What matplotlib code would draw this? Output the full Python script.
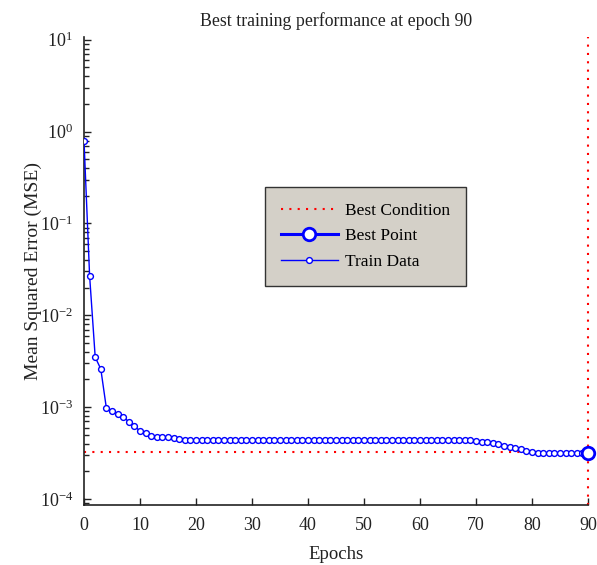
import matplotlib
matplotlib.use("Agg")
import matplotlib.pyplot as plt
import matplotlib.ticker as mticker
import numpy as np

epochs = list(range(0, 91))
train_mse = [
    0.80, 0.027, 0.0035, 0.0026, 0.00097, 0.00091, 0.00084, 0.00079, 0.00069, 0.00062,
    0.00055, 0.00052, 0.00049, 0.00047, 0.00047, 0.00047, 0.000457, 0.00045, 0.000438, 0.000438,
    0.000438, 0.000438, 0.000438, 0.000438, 0.000438, 0.000438, 0.000438, 0.000438, 0.000438, 0.000438,
    0.000438, 0.000438, 0.000438, 0.000438, 0.000438, 0.000438, 0.000438, 0.000438, 0.000438, 0.000438,
    0.000438, 0.000438, 0.000438, 0.000438, 0.000438, 0.000438, 0.000438, 0.000438, 0.000438, 0.000438,
    0.000438, 0.000438, 0.000438, 0.000438, 0.000438, 0.000438, 0.000438, 0.000438, 0.000438, 0.000438,
    0.000438, 0.000438, 0.000438, 0.000438, 0.000438, 0.000438, 0.000438, 0.000438, 0.000438, 0.000434,
    0.000428, 0.000422, 0.000415, 0.000405, 0.000395, 0.000382, 0.000370, 0.000358, 0.000346, 0.000335,
    0.000326, 0.000320, 0.000317, 0.000317, 0.000317, 0.000317, 0.000317, 0.000317, 0.000317, 0.000317,
    0.000316,
]
best_epoch = 90
best_value = 0.000316
best_condition = 0.000322
title_text = "Best training performance at epoch 90"
xlabel_text = "Epochs"
ylabel_text = "Mean Squared Error (MSE)"
x_ticks = [0, 10, 20, 30, 40, 50, 60, 70, 80, 90]
y_ticks = [1e-4, 1e-3, 1e-2, 1e-1, 1e0, 1e1]

plt.rcParams["font.family"] = ["Liberation Serif"]
plt.rcParams["mathtext.fontset"] = "custom"
plt.rcParams["mathtext.rm"] = "Liberation Serif"
plt.rcParams["mathtext.it"] = "Liberation Serif"

fig = plt.figure(figsize=(5.97, 5.65), dpi=100)
W, H = 597, 565
left, right, top, bottom = 84, 588, 37, 505
ax = fig.add_axes([left / W, 1 - bottom / H, (right - left) / W, (bottom - top) / H])

ax.axhline(best_condition, color="red", linestyle=(0, (1, 3)), linewidth=1.5,
           label="Best Condition", zorder=2)
ax.axvline(best_epoch, color="red", linestyle=(0, (1, 3)), linewidth=1.5, zorder=2,
           clip_on=False)
ax.plot([best_epoch], [best_value], color="blue", marker="o", markersize=9,
        markerfacecolor="white", markeredgewidth=2, linewidth=2.2,
        label="Best Point", zorder=4, clip_on=False)
ax.plot(epochs, train_mse, color="blue", marker="o", markersize=4.2,
        markerfacecolor="white", markeredgewidth=1, linewidth=1,
        label="Train Data", zorder=3)

ax.set_yscale("log")
ax.set_xlim(0, 90)
ax.set_ylim(8.6e-5, 10 ** 1.03)
ax.set_xticks(x_ticks)
ax.set_yticks(y_ticks)
ax.yaxis.set_major_formatter(mticker.FuncFormatter(lambda v, p: r"$10^{%d}$" % round(np.log10(v))))
ax.yaxis.set_minor_locator(mticker.LogLocator(base=10, subs=np.arange(2, 10)))
ax.yaxis.set_minor_formatter(mticker.NullFormatter())

for s in ["top", "right"]:
    ax.spines[s].set_visible(False)
for s in ["left", "bottom"]:
    ax.spines[s].set_linewidth(1.2)
    ax.spines[s].set_color("#222222")

ax.tick_params(axis="both", which="major", direction="in", length=5, width=1,
               labelsize=13, colors="#222222")
ax.tick_params(axis="y", which="minor", direction="in", length=3.5, width=1, colors="#222222")
ax.tick_params(axis="x", pad=9)
ax.tick_params(axis="y", pad=8)

ax.set_title(title_text, fontsize=12.8, pad=8, color="#222222")
ax.set_xlabel(xlabel_text, fontsize=13.5, labelpad=8, color="#222222")
ax.set_ylabel(ylabel_text, fontsize=14, labelpad=-2, color="#222222")

leg = ax.legend(loc="upper left", bbox_to_anchor=((265 - left) / (right - left), 1 - (187 - top) / (bottom - top)),
                fontsize=12.5, frameon=True, fancybox=False, handlelength=3.3,
                borderpad=0.9, labelspacing=0.55, handletextpad=0.4, borderaxespad=0)
leg.get_frame().set_facecolor("#d4d0c8")
leg.get_frame().set_edgecolor("#333333")
leg.get_frame().set_linewidth(1)
leg.get_frame().set_alpha(1)

fig.savefig("out.png", dpi=100)
